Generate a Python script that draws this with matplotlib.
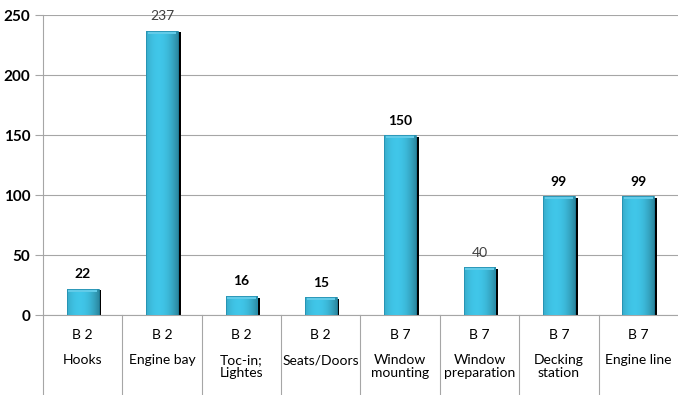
import numpy as np
import matplotlib
matplotlib.use("Agg")
import matplotlib.pyplot as plt
from matplotlib import transforms

plt.rcParams['font.family'] = ['Lato', 'DejaVu Sans']

groups = ["B 2", "B 2", "B 2", "B 2", "B 7", "B 7", "B 7", "B 7"]
stations = ["Hooks", "Engine bay", "Toc-in;\nLightes", "Seats/Doors",
            "Window\nmounting", "Window\npreparation", "Decking\nstation", "Engine line"]
values = [22, 237, 16, 15, 150, 40, 99, 99]
bold_label = [True, False, True, True, True, False, True, True]

fig = plt.figure(figsize=(6.78, 3.95), dpi=100)
ax = fig.add_axes([0.0634, 0.2025, 0.9366, 0.7595])

x = np.arange(len(values))
w = 0.40

# horizontal gradient to fake the bevelled bar look
grad = np.linspace(0, 1, 64)
shade = 1.05 - 0.45 * np.abs(grad - 0.4) ** 2 * 2
base = np.array([0.24, 0.74, 0.87])
img = np.clip(base[None, :] * shade[:, None], 0, 1)[None, :, :]

for xi, v in zip(x, values):
    # black drop shadow on the right side
    ax.bar(xi + 0.035, v - 1.5, width=w, color='black', zorder=2)
    bar = ax.bar(xi, v, width=w, color='none', edgecolor='#2590b0', linewidth=0.6, zorder=4)[0]
    im = ax.imshow(img, extent=[xi - w / 2, xi + w / 2, 0, v], aspect='auto', zorder=3,
                   interpolation='bicubic')
    im.set_clip_path(bar)
    # lighter top bevel
    ax.bar(xi, 2.5, bottom=v - 2.5, width=w * 0.9, color='#62cbe8', edgecolor='none', zorder=3.5)

for xi, v, b in zip(x, values, bold_label):
    ax.text(xi, v + 7, str(v), ha='center', va='bottom', fontsize=10,
            fontweight='bold' if b else 'normal', color='black' if b else '#404040')

ax.set_xlim(-0.5, len(values) - 0.5)
ax.set_ylim(0, 250)
ax.set_yticks([0, 50, 100, 150, 200, 250])
ax.set_yticklabels(['0', '50', '100', '150', '200', '250'], fontsize=11, fontweight='bold')
ax.set_xticks([])
ax.yaxis.grid(True, color='#a6a6a6', linewidth=0.8)
ax.set_axisbelow(True)
ax.tick_params(axis='y', length=6, color='#a6a6a6', pad=3)
for s in ['top', 'right']:
    ax.spines[s].set_visible(False)
ax.spines['left'].set_color('#a6a6a6')
ax.spines['bottom'].set_color('#a6a6a6')

# category table under the axis
trans = transforms.blended_transform_factory(ax.transData, ax.transAxes)
for b in np.arange(-0.5, len(values) - 1, 1.0):
    ax.plot([b, b], [0, -0.27], transform=trans, color='#a6a6a6', lw=0.8, clip_on=False)
for xi, g, s in zip(x, groups, stations):
    ax.text(xi, -0.067, g, transform=trans, ha='center', va='center', fontsize=10)
    ax.text(xi, -0.13, s, transform=trans, ha='center', va='top', fontsize=10, linespacing=1.1)

fig.savefig("out.png", dpi=100)
